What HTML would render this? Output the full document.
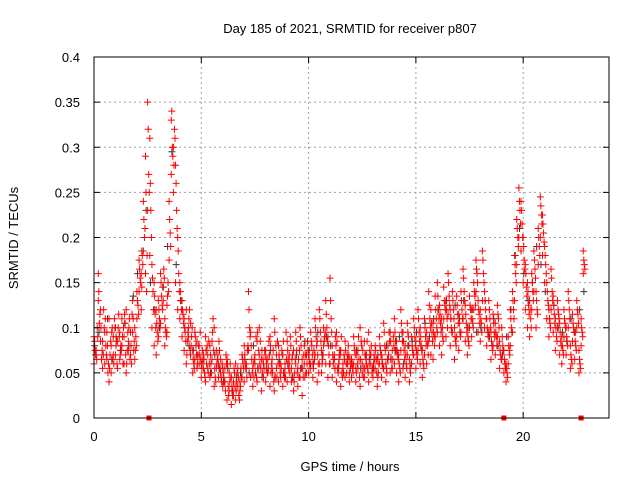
<!DOCTYPE html>
<html><head><meta charset="utf-8"><style>
body{margin:0;background:#fff}
svg{display:block;font-family:"Liberation Sans",Arial,sans-serif}
</style></head><body>
<svg id="chart" width="640" height="480" viewBox="0 0 640 480" xmlns="http://www.w3.org/2000/svg">
<rect width="640" height="480" fill="#fff"/>
<g id="grid"></g>
<g id="points"></g>
<g id="axes"></g>
<text x="350" y="33" font-size="13" text-anchor="middle">Day 185 of 2021, SRMTID for receiver p807</text>
<text x="350" y="471" font-size="13" text-anchor="middle">GPS time / hours</text>
<text x="0" y="0" font-size="13" text-anchor="middle" transform="translate(18,238) rotate(-90)">SRMTID / TECUs</text>
</svg>
<script>
const xTicks=[0,5,10,15,20];
const yTicks=[0,0.05,0.1,0.15,0.2,0.25,0.3,0.35,0.4];
const yTickLabels=["0","0.05","0.1","0.15","0.2","0.25","0.3","0.35","0.4"];
const stepRed=0.1;
const stepBlack=0.2;
// values in 1e-3 TECU
const redA=[90,75,160,120,85,60,95,110,80,70,100,85,65,110,90,120,75,95,130,100,140,175,160,240,290,350,310,170,150,120,130,160,145,110,125,240,330,300,280,200,150,130,110,120,90,105,75,95,85,80,60,70,90,55,80,65,100,75,60,50,55,40,65,30,45,25,60,35,40,70,80,60,140,95,55,70,85,100,65,60,75,50,90,65,110,55,80,45,70,60,85,60,40,75,95,55,100,65,80,50,70,95,60,110,85,120,75,100,130,90,155,80,65,95,55,75,60,85,70,50,65,90,55,75,100,60,85,70,95,60,55,80,65,90,70,105,60,80,95,75,110,85,70,120,95,80,105,65,90,110,85,120,100,75,110,95,140,120,105,135,150,125,110,145,130,160,120,140,100,135,115,140,165,125,100,135,120,150,175,130,120,185,140,110,130,95,115,105,125,85,100,75,60,90,120,140,180,220,255,240,200,170,150,130,160,185,140,210,245,225,190,150,120,165,135,110,130,105,90,120,100,140,80,115,95,130,75,110,185];
const redB=[60,70,130,85,55,95,65,40,50,90,70,55,95,80,60,50,85,70,95,65,110,140,120,185,160,230,180,100,80,70,90,105,120,80,95,175,270,250,150,120,110,90,75,60,100,70,50,65,55,60,45,55,40,70,45,85,35,55,45,65,35,55,20,50,15,40,20,55,30,45,40,55,75,45,35,60,40,70,30,45,40,65,35,55,30,70,40,60,35,55,40,70,55,30,60,35,45,25,60,70,50,60,45,70,40,60,50,80,60,45,60,45,70,40,60,35,55,45,60,40,45,60,40,55,35,50,45,60,40,70,45,55,35,60,45,55,40,65,50,55,60,50,40,75,55,45,70,40,60,70,55,75,60,45,70,60,85,70,65,90,95,80,70,110,90,115,80,95,65,90,75,95,110,85,70,100,90,120,140,95,85,130,100,80,95,65,80,70,90,55,65,50,40,60,80,95,130,170,200,185,150,120,100,90,120,140,100,170,200,180,150,110,90,120,95,75,100,70,60,90,70,100,55,85,65,100,50,80,160];
const redC=[75,100,105,65,120,80,50,70,100,110,85,115,80,60,105,75,110,60,75,90,125,155,180,200,140,270,230,140,115,95,110,135,165,95,150,205,300,320,230,160,130,115,95,85,120,90,60,80,70,95,75,50,60,85,60,110,45,65,75,40,45,70,35,60,25,50,40,25,55,60,60,75,100,65,45,90,55,85,50,75,60,85,50,75,45,85,60,75,50,95,65,90,70,50,75,45,80,45,70,85,60,80,75,90,60,95,65,90,100,70,110,60,90,55,75,50,70,60,80,55,55,75,70,65,85,45,70,55,75,50,70,65,50,75,60,80,50,95,65,90,85,70,55,95,75,60,90,50,75,90,70,95,80,60,90,80,110,95,90,110,120,105,90,125,110,135,100,120,85,115,95,120,140,105,85,120,105,135,160,115,105,160,120,95,110,80,95,90,110,70,80,60,50,75,100,120,160,200,230,215,175,145,125,110,140,165,120,190,225,205,170,130,105,140,115,90,115,85,75,105,85,120,65,100,80,115,60,95,170];
const redD=[85,65,140,100,70,110,80,55,95,60,80,100,70,90,115,60,100,80,110,75,130,165,145,220,250,320,260,155,135,105,120,150,130,100,135,220,340,280,260,185,140,120,100,70,110,80,65,90,60,70,55,65,75,50,70,95,55,60,85,45,50,30,60,40,35,55,30,45,35,65,70,45,120,80,60,50,95,60,75,55,65,55,80,50,95,45,70,55,85,45,75,50,65,40,85,65,90,55,45,60,65,85,55,100,70,110,60,85,115,80,130,70,55,85,65,90,50,75,60,65,60,80,50,90,65,75,55,85,60,80,60,75,45,80,65,95,55,70,85,65,95,75,60,105,85,70,95,55,80,100,75,110,90,65,100,85,125,105,95,120,135,115,100,130,120,150,110,130,90,125,105,130,155,115,90,125,110,140,165,120,110,175,130,100,120,85,105,95,115,75,90,65,55,80,110,130,170,210,240,230,190,160,140,120,150,175,130,200,235,215,180,140,110,155,125,100,120,95,80,110,90,130,70,105,85,120,65,100,175];
const redE=[70,90,115,75,100,70,60,85,65,100,60,90,75,100,70,95,65,115,85,80,115,150,170,210,180,250,200,120,100,85,100,125,155,90,140,190,290,310,210,140,120,105,85,95,75,100,55,70,80,65,65,45,80,60,50,75,40,70,55,60,40,60,25,45,30,35,50,20,45,55,55,80,90,50,65,45,75,55,65,70,50,70,60,40,80,60,50,70,45,65,55,80,45,65,50,75,55,70,50,75,55,70,65,80,50,85,70,95,85,60,95,65,80,50,70,45,65,50,70,60,50,70,60,45,80,55,65,50,70,55,65,50,60,70,55,75,65,85,55,80,75,65,50,85,65,55,80,60,70,80,65,85,75,55,80,70,100,85,80,100,110,95,85,120,100,125,95,110,80,105,90,110,130,95,80,110,100,125,150,105,95,150,110,90,100,75,90,80,100,65,75,55,45,70,95,110,150,190,215,200,165,135,115,100,130,155,115,180,215,195,160,125,100,130,105,85,110,80,70,100,80,110,60,95,75,105,55,90,165];
const blackK=[80,95,70,110,65,90,75,105,80,135,160,185,230,150,120,100,145,190,295,170,130,100,80,75,70,60,75,50,70,55,40,55,30,45,50,65,50,80,55,45,55,75,45,65,50,60,45,70,55,85,75,60,95,70,90,80,55,70,50,65,60,75,55,70,65,55,70,60,80,65,75,90,60,80,85,95,80,105,90,110,120,100,130,110,125,110,130,100,120,95,100,130,90,110,80,70,90,120,180,210,160,130,150,190,170,140,110,125,100,95,85,110,95,120,140];
const gapHours=[2.56,19.1,22.7];

const L=94,R=609,T=57,B=418,XMAX=24,YMAX=0.4;
const xs=h=>L+(h/XMAX)*(R-L);
const ys=v=>B-(v/YMAX)*(B-T);
const NS="http://www.w3.org/2000/svg";
function mk(tag,attrs,parent){const e=document.createElementNS(NS,tag);for(const k in attrs)e.setAttribute(k,attrs[k]);parent.appendChild(e);return e;}
const grid=document.getElementById('grid'),pts=document.getElementById('points'),axes=document.getElementById('axes');
xTicks.forEach(t=>{
  if(t>0){const g=mk('line',{x1:xs(t),x2:xs(t),y1:T,y2:B,stroke:'#a0a0a0','stroke-dasharray':'2,3','stroke-width':1},grid);
  
  }
  const tk=mk('path',{d:`M${xs(t)},${B}v-6M${xs(t)},${T}v6`,stroke:'#000','stroke-width':1},axes);
  
  
  const lb=mk('text',{x:xs(t),y:B+23,'font-size':13,'text-anchor':'middle'},axes);lb.textContent=String(t);
  
  
});
yTicks.forEach((t,i)=>{
  if(t>0&&t<YMAX){const g=mk('line',{x1:L,x2:R,y1:ys(t),y2:ys(t),stroke:'#a0a0a0','stroke-dasharray':'2,3','stroke-width':1},grid);
  
  }
  const tk=mk('path',{d:`M${L},${ys(t)}h6M${R},${ys(t)}h-6`,stroke:'#000','stroke-width':1},axes);
  
  
  const lb=mk('text',{x:L-14,y:ys(t)+5,'font-size':13,'text-anchor':'end'},axes);lb.textContent=yTickLabels[i];
  
  
});
const fr=mk('rect',{x:L,y:T,width:R-L,height:B-T,fill:'none',stroke:'#000','stroke-width':1},axes);


function plus(h,v,color){
  const x=xs(h),y=ys(v/1000);
  const p=mk('path',{d:`M${x-3.5},${y}h7M${x},${y-3.5}v7`,stroke:color,'stroke-width':1,fill:'none'},pts);
  
  
}
blackK.forEach((v,i)=>plus(i*stepBlack+0.03,v,'#333333'));
const redSeries=[redB,redC,redD,redE,redA];
const redOffsets=[0,0.05,0.025,0.075,0];
redSeries.forEach((arr,s)=>arr.forEach((v,i)=>plus(i*stepRed+redOffsets[s],v,'#ff0000')));
gapHours.forEach(h=>{
  const r=mk('rect',{x:xs(h)-2.5,y:B-2.5,width:5,height:5,fill:'#ff0000'},pts);
  
  
});
</script>
</body></html>
